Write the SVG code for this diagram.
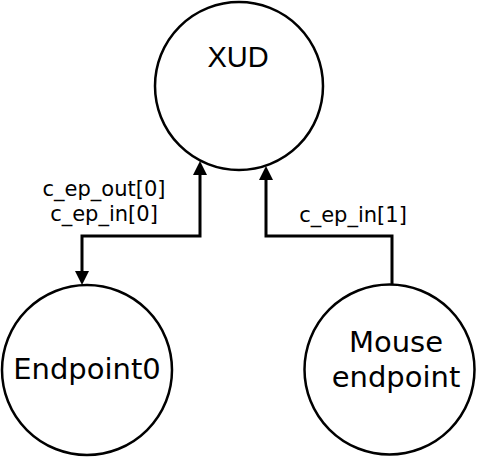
<svg xmlns="http://www.w3.org/2000/svg" width="477" height="458" viewBox="0 0 477 458">
<style>
.node{fill:#fff;stroke:#000;stroke-width:2.5}
.lbl{font-family:"DejaVu Sans",sans-serif;fill:#000;text-anchor:middle}
.edge{fill:none;stroke:#000;stroke-width:3}
</style>
<defs>
<marker id="arr" viewBox="0 0 14 14" refX="0" refY="7" markerWidth="14" markerHeight="14" markerUnits="userSpaceOnUse" orient="auto-start-reverse">
<path d="M0,0 L14,7 L0,14 z" fill="#000"/>
</marker>
</defs>
<rect width="477" height="458" fill="#fff"/>
<g id="edges">
<path class="edge" d="M200,175 V236 H82 V271" marker-start="url(#arr)" marker-end="url(#arr)"/>
<text class="lbl" x="104" y="196" font-size="21">c_ep_out[0]</text>
<text class="lbl" x="104" y="221" font-size="21">c_ep_in[0]</text>
<path class="edge" d="M392,284 V236 H266 V180" marker-end="url(#arr)"/>
<text class="lbl" x="353" y="222" font-size="21">c_ep_in[1]</text>
</g>
<g id="xud">
<circle class="node" cx="239" cy="86" r="84"/>
<text x="238" y="67" font-size="29" font-family="Liberation Sans, sans-serif" text-anchor="middle">XUD</text>
</g>
<g id="endpoint0">
<circle class="node" cx="87" cy="370" r="85"/>
<text class="lbl" x="87" y="379" font-size="29">Endpoint0</text>
</g>
<g id="mouse">
<circle class="node" cx="389.5" cy="369.5" r="85"/>
<text class="lbl" x="396" y="352" font-size="29">Mouse</text>
<text class="lbl" x="396" y="387" font-size="29">endpoint</text>
</g>
</svg>
